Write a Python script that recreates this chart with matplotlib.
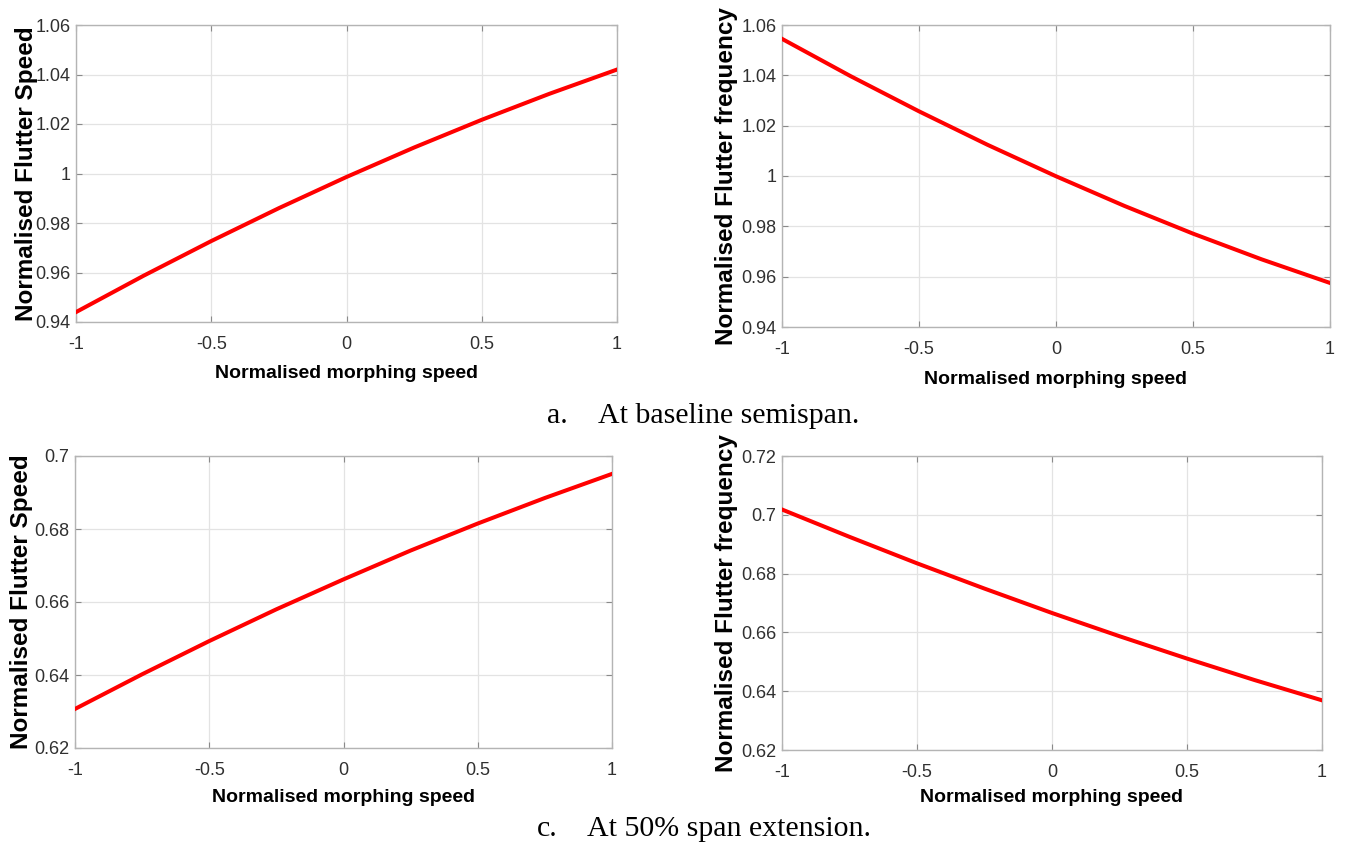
import matplotlib
matplotlib.use("Agg")
import matplotlib.pyplot as plt

# Normalised morphing speed (shared abscissa)
morph_speed = [-1.0, -0.75, -0.5, -0.25, 0.0, 0.25, 0.5, 0.75, 1.0]

# Baseline semispan
speed_baseline = [0.9440, 0.9587, 0.9727, 0.9860, 0.9986, 1.0105, 1.0217, 1.0322, 1.0420]
freq_baseline = [1.0545, 1.0397, 1.0257, 1.0124, 0.9999, 0.9881, 0.9771, 0.9669, 0.9575]

# 50% span extension
speed_ext50 = [0.6307, 0.6402, 0.6493, 0.6580, 0.6662, 0.6741, 0.6815, 0.6885, 0.6951]
freq_ext50 = [0.7018, 0.6925, 0.6835, 0.6749, 0.6666, 0.6587, 0.6511, 0.6438, 0.6369]

x_ticks = [-1, -0.5, 0, 0.5, 1]
x_tick_labels = ["-1", "-0.5", "0", "0.5", "1"]
yticks_speed_base = [0.94, 0.96, 0.98, 1.00, 1.02, 1.04, 1.06]
yticks_freq_base = [0.94, 0.96, 0.98, 1.00, 1.02, 1.04, 1.06]
yticks_speed_ext = [0.62, 0.64, 0.66, 0.68, 0.70]
yticks_freq_ext = [0.62, 0.64, 0.66, 0.68, 0.70, 0.72]

xlabel_text = "Normalised morphing speed"
ylabel_speed = "Normalised Flutter Speed"
ylabel_freq = "Normalised Flutter frequency"
caption_a = ("a.", "At baseline semispan.")
caption_c = ("c.", "At 50% span extension.")

W, H = 1349, 844
fig = plt.figure(figsize=(W / 100, H / 100), dpi=100)
fig.patch.set_facecolor("white")


def fmt_tick(v):
    return f"{v:.2f}".rstrip("0").rstrip(".")


def panel(box, x, y, yticks, ylabel, ylab_dx, xlab_dy):
    left, top, right, bottom = box
    ax = fig.add_axes([left / W, 1 - bottom / H, (right - left) / W, (bottom - top) / H])
    ax.plot(x, y, color="#ff0000", lw=2.9, solid_joinstyle="round", zorder=3)
    ax.set_xlim(-1, 1)
    ax.set_ylim(yticks[0], yticks[-1])
    ax.set_xticks(x_ticks)
    ax.set_xticklabels(x_tick_labels)
    ax.set_yticks(yticks)
    ax.set_yticklabels([fmt_tick(v) for v in yticks])
    ax.grid(True, color="#e3e3e3", lw=0.9, zorder=0)
    for s in ax.spines.values():
        s.set_color("#b4b4b4")
        s.set_linewidth(1.0)
    ax.tick_params(axis="both", direction="in", length=4, width=0.8, color="#8a8a8a",
                   labelsize=13, labelcolor="#303030", top=True, right=True)
    ax.tick_params(axis="x", pad=10)
    ax.tick_params(axis="y", pad=4)
    for lab in ax.get_xticklabels() + ax.get_yticklabels():
        lab.set_family("Liberation Sans")
    ax.set_xlabel(xlabel_text, fontsize=14, fontweight="bold", family="Liberation Sans")
    ax.set_ylabel(ylabel, fontsize=17.5, fontweight="bold", family="Liberation Sans")
    wpx = right - left
    hpx = bottom - top
    ax.xaxis.set_label_coords(0.5, -xlab_dy / hpx)
    ax.yaxis.set_label_coords(-ylab_dx / wpx, 0.5)
    ax.xaxis.label.set_va("center")
    ax.yaxis.label.set_va("center")
    return ax


panel((76, 25, 617, 322), morph_speed, speed_baseline, yticks_speed_base, ylabel_speed, 49, 51)
panel((782, 25, 1330, 327), morph_speed, freq_baseline, yticks_freq_base, ylabel_freq, 55, 53)
panel((75, 456, 612, 748), morph_speed, speed_ext50, yticks_speed_ext, ylabel_speed, 53, 49)
panel((782, 456, 1322, 750), morph_speed, freq_ext50, yticks_freq_ext, ylabel_freq, 55, 48)

cap_kw = dict(fontsize=21.5, family="Liberation Serif", va="baseline", ha="left", color="black")
fig.text(547 / W, 1 - 423 / H, caption_a[0], **cap_kw)
fig.text(598 / W, 1 - 423 / H, caption_a[1], **cap_kw)
fig.text(537 / W, 1 - 836 / H, caption_c[0], **cap_kw)
fig.text(587 / W, 1 - 836 / H, caption_c[1], **cap_kw)

fig.savefig("out.png", dpi=100, facecolor="white")
